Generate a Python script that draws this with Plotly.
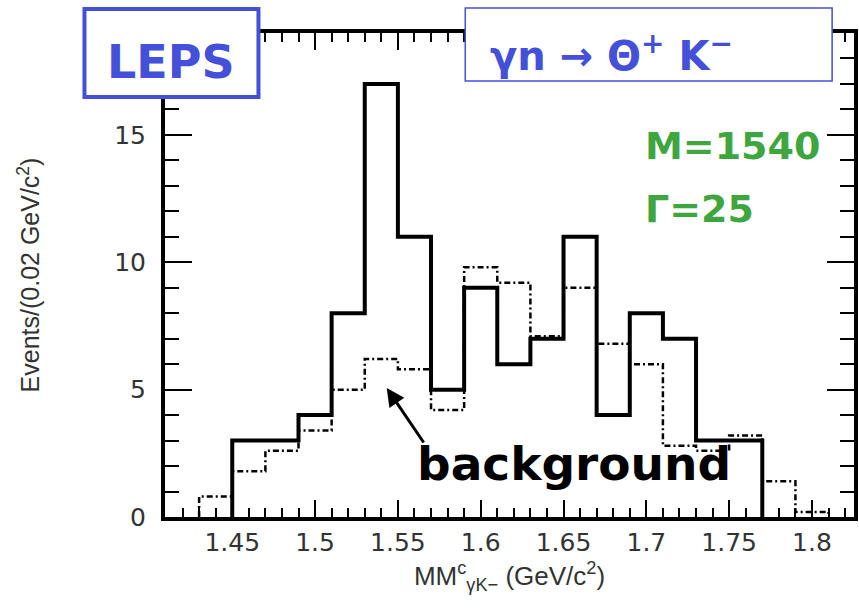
import plotly.graph_objects as go

# Missing-mass histogram, 0.02 GeV/c^2 bins
bin_width = 0.02

signal_lo = [1.45, 1.47, 1.49, 1.51, 1.53, 1.55, 1.57, 1.59, 1.61, 1.63,
             1.65, 1.67, 1.69, 1.71, 1.73, 1.75]
signal_counts = [3, 3, 4, 8, 17, 11, 5, 9, 6, 7, 11, 4, 8, 7, 3, 3]

bkg_lo = [1.43, 1.45, 1.47, 1.49, 1.51, 1.53, 1.55, 1.57, 1.59, 1.61, 1.63,
          1.65, 1.67, 1.69, 1.71, 1.73, 1.75, 1.77, 1.79]
bkg_counts = [0.8, 1.8, 2.6, 3.4, 5.0, 6.2, 5.8, 4.2, 9.8, 9.2, 7.1,
              9.0, 6.8, 6.0, 2.8, 2.6, 3.2, 1.4, 0.2]

x_ticks = [1.45, 1.5, 1.55, 1.6, 1.65, 1.7, 1.75, 1.8]
y_ticks = [0, 5, 10, 15]


def step_outline(lows, counts, width):
    xs, ys = [lows[0]], [0]
    for lo, c in zip(lows, counts):
        xs += [lo, lo + width]
        ys += [c, c]
    xs.append(lows[-1] + width)
    ys.append(0)
    return xs, ys


sx, sy = step_outline(signal_lo, signal_counts, bin_width)
bx, by = step_outline(bkg_lo, bkg_counts, bin_width)

fig = go.Figure()
fig.add_trace(go.Scatter(x=bx, y=by, mode="lines",
                         line=dict(color="black", width=2.5, dash="6px,3px,2px,3px"),
                         hoverinfo="skip"))
fig.add_trace(go.Scatter(x=sx, y=sy, mode="lines",
                         line=dict(color="black", width=4),
                         hoverinfo="skip"))

W, H = 859, 608
L, R, T, B = 165, 1, 33, 91
plot_w = W - L - R

blue = "#4450D8"
green = "#3FA63F"

fig.update_layout(
    width=W, height=H,
    margin=dict(l=L, r=R, t=T, b=B),
    paper_bgcolor="white", plot_bgcolor="white",
    showlegend=False,
    xaxis=dict(
        range=[1.4094, 1.4094 + plot_w / 1666.0],
        tickvals=x_ticks, ticktext=[f"{v:g}" for v in x_ticks],
        ticks="inside", ticklen=17, tickwidth=2, tickcolor="black",
        minor=dict(dtick=0.01, tick0=1.4, ticks="inside", ticklen=9,
                   tickwidth=2, tickcolor="black"),
        showline=True, linewidth=4, linecolor="black", mirror="ticks",
        showgrid=False, zeroline=False,
        tickfont=dict(family="DejaVu Sans", size=25, color="#333"),
        title=dict(text="MM<sup>c</sup><sub>γK−</sub> (GeV/c<sup>2</sup>)",
                   font=dict(family="Liberation Sans", size=26, color="#333"),
                   standoff=12),
    ),
    yaxis=dict(
        range=[0, 19],
        tickvals=y_ticks,
        ticks="inside", ticklen=27, tickwidth=2, tickcolor="black",
        minor=dict(dtick=1, ticks="inside", ticklen=14, tickwidth=2,
                   tickcolor="black"),
        showline=True, linewidth=4, linecolor="black", mirror="ticks",
        showgrid=False, zeroline=False,
        ticklabelstandoff=10,
        tickfont=dict(family="DejaVu Sans", size=25, color="#333"),
        title=dict(text="Events/(0.02 GeV/c<sup>2</sup>)",
                   font=dict(family="Liberation Sans", size=25, color="#333"),
                   standoff=68),
    ),
)


def px_x(p):
    return (p - L) / plot_w


def px_y(p):
    return 1 - (p - T) / (H - T - B)


# Label boxes
fig.add_shape(type="rect", xref="paper", yref="paper",
              x0=px_x(84), x1=px_x(259), y0=px_y(97), y1=px_y(9),
              line=dict(color=blue, width=4), fillcolor="white", layer="above")
fig.add_shape(type="rect", xref="paper", yref="paper",
              x0=px_x(467), x1=px_x(836), y0=px_y(81), y1=px_y(8),
              line=dict(color=blue, width=1.5), fillcolor="white", layer="above")

comic = "Comic Sans MS, DejaVu Sans"


def label(x, y, text, font, xanchor="center"):
    fig.add_annotation(x=px_x(x), y=px_y(y), xref="paper", yref="paper",
                       xanchor=xanchor, yanchor="middle", text=text,
                       showarrow=False, font=font)


label(171, 62, "<b>LEPS</b>", dict(family=comic, size=46, color=blue))
label(490, 53, "<b>γn → Θ<sup>+</sup> K<sup>−</sup></b>",
      dict(family=comic, size=40, color=blue), xanchor="left")
label(646, 146, "<b>M=1540</b>", dict(family=comic, size=38, color=green),
      xanchor="left")
label(646, 209, "<b>Γ=25</b>", dict(family=comic, size=38, color=green),
      xanchor="left")

# Background label with arrow
label(576, 463, "<b>background</b>",
      dict(family="DejaVu Sans", size=47, color="black"))
fig.add_annotation(x=px_x(388), y=px_y(388), xref="paper", yref="paper",
                   ax=38, ay=56, axref="pixel", ayref="pixel",
                   text="", showarrow=True, arrowhead=2, arrowsize=1.2,
                   arrowwidth=3, arrowcolor="black")

fig.write_html("out.html")
